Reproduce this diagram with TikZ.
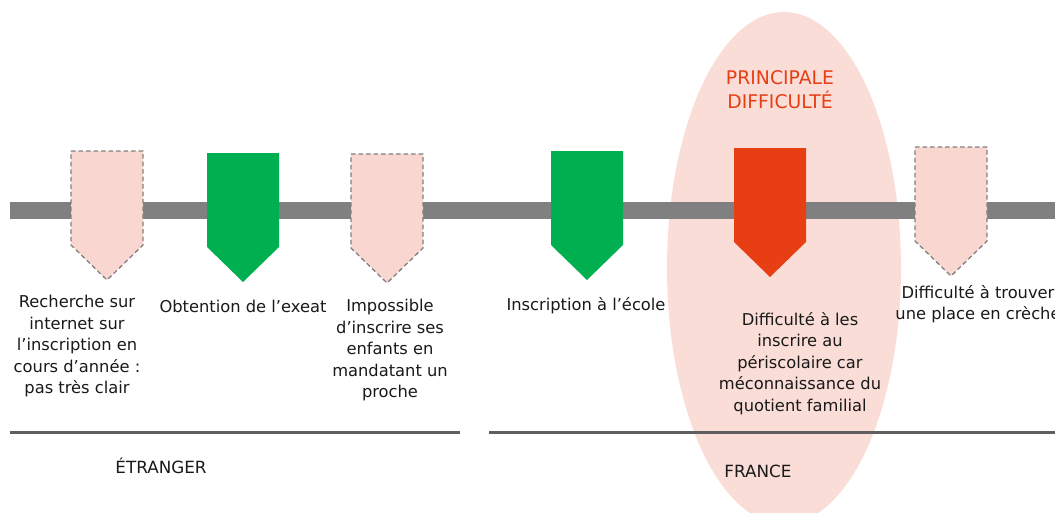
\documentclass[tikz,border=0pt]{standalone}
\usepackage{fontspec}
\setmainfont{DejaVu Sans}
\definecolor{pinkfill}{RGB}{249,214,207}
\definecolor{ellfill}{RGB}{250,221,215}
\definecolor{greenmk}{RGB}{0,176,80}
\definecolor{redmk}{RGB}{232,62,20}
\definecolor{bargray}{RGB}{128,128,128}
\definecolor{linegray}{RGB}{95,95,95}
\definecolor{txt}{RGB}{25,25,25}
\tikzset{
  lbl/.style={align=center, text=txt, font=\fontsize{16.3}{21.5}\selectfont, inner sep=0pt},
  zonelbl/.style={text=txt, font=\fontsize{16.8}{20}\selectfont, inner sep=0pt},
  pinkmk/.style={fill=pinkfill, draw=bargray, line width=1.3pt, dash pattern=on 4.5pt off 3pt},
  greenstyle/.style={fill=greenmk},
  redstyle/.style={fill=redmk},
}
\newcommand{\jalonmk}[3]{% style, center x, top y
  \path[#1] (#2-36,#3) -- (#2+36,#3) -- (#2+36,#3+94) -- (#2,#3+129) -- (#2-36,#3+94) -- cycle;}
\begin{document}
\begin{tikzpicture}[x=1pt,y=-1pt]
\useasboundingbox (0,0) rectangle (1055,512);
\fill[ellfill] (784,268) ellipse [x radius=117pt, y radius=256pt];
\fill[bargray] (10,202) rectangle (1055,219);
\jalonmk{pinkmk}{107}{151}
\jalonmk{greenstyle}{243}{153}
\jalonmk{pinkmk}{387}{154}
\jalonmk{greenstyle}{587}{151}
\jalonmk{redstyle}{770}{148}
\jalonmk{pinkmk}{951}{147}
\node[align=center, text=redmk, font=\fontsize{18.8}{24}\selectfont, inner sep=0pt] (princ) at (780,90) {PRINCIPALE\\DIFFICULTÉ};
\node[lbl, anchor=north] (t1) at (77,295) {Recherche sur\\internet sur\\l’inscription en\\cours d’année :\\pas très clair};
\node[lbl, anchor=north] (t2) at (243,300) {Obtention de l’exeat};
\node[lbl, anchor=north] (t3) at (390,299) {Impossible\\d’inscrire ses\\enfants en\\mandatant un\\proche};
\node[lbl, anchor=north] (t4) at (586,297) {Inscription à l’école};
\node[lbl, anchor=north] (t5) at (800,312) {Difficulté à les\\inscrire au\\périscolaire car\\méconnaissance du\\quotient familial};
\node[lbl, anchor=north] (t6) at (978,285) {Difficulté à trouver\\une place en crèche};
\draw[linegray, line width=3pt] (10,432) coordinate (l1a) -- (460,432) coordinate (l1b);
\draw[linegray, line width=3pt] (489,432) coordinate (l2a) -- (1055,432) coordinate (l2b);
\node[zonelbl] (etr) at (161,466) {ÉTRANGER};
\node[zonelbl] (fra) at (758,471) {FRANCE};
\end{tikzpicture}
\end{document}
